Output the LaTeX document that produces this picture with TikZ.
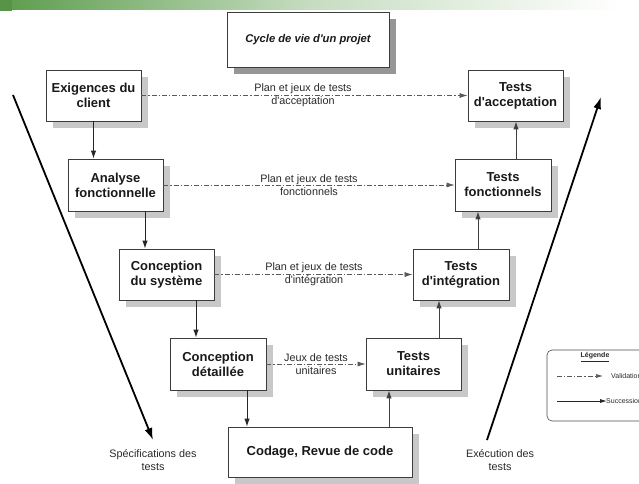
\documentclass[tikz,border=0pt]{standalone}
\usepackage{fontspec}
\setmainfont{Liberation Sans}
\newfontfamily\lib{Liberation Sans}
\usetikzlibrary{arrows.meta,shadows,calc}
\definecolor{gbar}{RGB}{92,156,76}
\definecolor{boxline}{RGB}{60,60,60}
\definecolor{shadowc}{RGB}{200,200,200}
\definecolor{shadowd}{RGB}{150,150,150}
\definecolor{txt}{RGB}{40,40,40}
\begin{document}
\begin{tikzpicture}[x=1pt,y=-1pt,
  box/.style={draw=boxline, line width=0.8pt, fill=white, align=center, inner sep=2pt,
    font=\lib\bfseries\fontsize{13}{15}\selectfont, text=black!90,
    drop shadow={shadow xshift=7pt, shadow yshift=-7pt, fill=shadowc, opacity=1}},
  lbl/.style={align=center, font=\lib\fontsize{10.8}{13}\selectfont, text=txt, inner sep=0pt},
  succ/.style={draw=black!85, line width=1pt, -{Latex[length=8pt,width=5.5pt]}},
  valid/.style={draw=black!65, line width=0.7pt, dash pattern=on 5pt off 2pt on 1.2pt off 2pt,
    -{Latex[length=8pt,width=5pt]}},
  big/.style={draw=black, line width=1.8pt, -{Latex[length=12pt,width=8pt]}}]
\useasboundingbox (0,0) rectangle (639,483);
% top green bar
\shade[left color=gbar, right color=white, middle color=gbar!35] (0,0) rectangle (620,9.5);
\fill[gbar!95!black] (0,0) rectangle (12,11);

% title
\node[box, font=\lib\bfseries\itshape\fontsize{11.2}{13}\selectfont, minimum width=162pt, minimum height=55pt,
  drop shadow={shadow xshift=7pt, shadow yshift=-7pt, fill=shadowd, opacity=1}] (title) at (308,39.5) {Cycle de vie d'un projet};

% left branch
\node[box, minimum width=95pt, minimum height=51pt] (exig) at (93.5,95.5) {Exigences du\\client};
\node[box, minimum width=95pt, minimum height=52pt] (anal) at (115.5,185) {Analyse\\fonctionnelle};
\node[box, minimum width=95pt, minimum height=51pt] (csys) at (166.5,274.5) {Conception\\du système};
\node[box, minimum width=96pt, minimum height=52pt] (cdet) at (218,364) {Conception\\détaillée};
\node[box, minimum width=184pt, minimum height=50pt] (code) at (320,452) {Codage, Revue de code};
% right branch
\node[box, minimum width=95pt, minimum height=52pt] (tuni) at (413.5,364) {Tests\\unitaires};
\node[box, minimum width=96pt, minimum height=51pt] (tint) at (461,274.5) {Tests\\d'intégration};
\node[box, minimum width=96pt, minimum height=52pt] (tfon) at (503,185) {Tests\\fonctionnels};
\node[box, minimum width=95pt, minimum height=51pt] (tacc) at (515.5,95.5) {Tests\\d'acceptation};

% succession arrows (left, descending)
\draw[succ] (exig.south) -- (exig.south |- anal.north);
\draw[succ] ([xshift=29.5pt]anal.south) -- ([xshift=29.5pt]anal.south |- csys.north);
\draw[succ] ([xshift=29.5pt]csys.south) -- ([xshift=29.5pt]csys.south |- cdet.north);
\draw[succ] ([xshift=29pt]cdet.south) -- ([xshift=29pt]cdet.south |- code.north);
% succession arrows (right, ascending)
\draw[succ, draw=black!75] ([xshift=-24.5pt]tuni.south |- code.north) -- ([xshift=-24.5pt]tuni.south);
\draw[succ, draw=black!75] ([xshift=25.5pt]tuni.north) -- ([xshift=25.5pt]tuni.north |- tint.south);
\draw[succ, draw=black!75] ([xshift=17pt]tint.north) -- ([xshift=17pt]tint.north |- tfon.south);
\draw[succ, draw=black!75] ([xshift=13pt]tfon.north) -- ([xshift=13pt]tfon.north |- tacc.south);

% validation arrows
\draw[valid] (exig.east) -- (tacc.west);
\draw[valid] (anal.east) -- (tfon.west);
\draw[valid] (csys.east) -- (tint.west);
\draw[valid] (cdet.east) -- (tuni.west);
\node[lbl] (l1) at (303,95.5) {Plan et jeux de tests\\d'acceptation};
\node[lbl] (l2) at (309,185) {Plan et jeux de tests\\fonctionnels};
\node[lbl] (l3) at (314,274.5) {Plan et jeux de tests\\d'intégration};
\node[lbl] (l4) at (316,364) {Jeux de tests\\unitaires};

% big diagonal arrows
\coordinate (ls) at (13,95);
\coordinate (le) at (153,440);
\coordinate (rs) at (487,440);
\coordinate (re) at (601,97);
\draw[big] (ls) -- (le);
\draw[big] (rs) -- (re);
\node[lbl] (spec) at (153,460) {Spécifications des\\tests};
\node[lbl] (exec) at (500,460) {Exécution des\\tests};

% legend
\draw[draw=black!70, line width=0.6pt, rounded corners=5pt] (547,350) rectangle (680,421);
\node[font=\lib\bfseries\fontsize{7}{8}\selectfont, text=txt, inner sep=0pt] (leg) at (595,357) {\underline{Légende}};
\coordinate (v1) at (557,376);
\coordinate (v2) at (603,376);
\coordinate (s1) at (557,401);
\coordinate (s2) at (607,401);
\draw[valid, line width=0.6pt, -{Latex[length=7pt,width=4pt]}] (v1) -- (v2);
\draw[succ, line width=0.8pt, -{Latex[length=7pt,width=4pt]}] (s1) -- (s2);
\node[anchor=west, font=\lib\fontsize{7}{8}\selectfont, text=txt, inner sep=0pt] (vt) at (611,376) {Validation};
\node[anchor=west, font=\lib\fontsize{7}{8}\selectfont, text=txt, inner sep=0pt] (st) at (606,401) {Succession};
\end{tikzpicture}
\end{document}
